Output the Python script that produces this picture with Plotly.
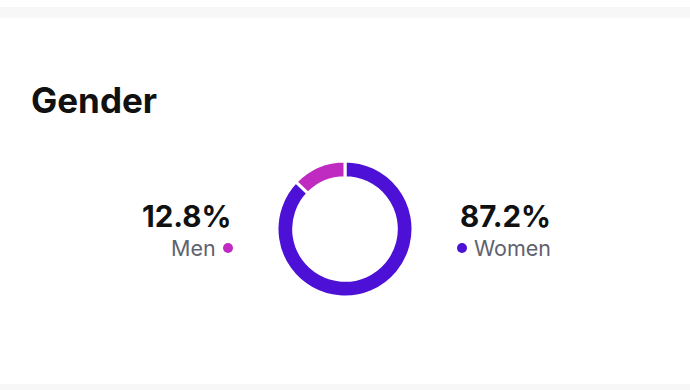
import plotly.graph_objects as go

title = "Gender"
labels = ["Women", "Men"]
values = [87.2, 12.8]
colors = ["#4D10D6", "#BF2BC0"]

W, H = 690, 390
def px(x): return x / W
def py(y): return 1 - y / H

fig = go.Figure()
fig.add_trace(go.Pie(
    labels=labels, values=values, sort=False, direction="clockwise", rotation=0,
    hole=0.755, marker=dict(colors=colors, line=dict(color="white", width=3)),
    textinfo="none", hoverinfo="label+percent", showlegend=False,
    domain=dict(x=[px(277), px(413)], y=[py(297), py(161)]),
))

font = "Inter, Roboto, sans-serif"
shapes = [
    dict(type="rect", xref="paper", yref="paper", x0=0, x1=1, y0=py(18), y1=py(7),
         fillcolor="#F7F7F7", line=dict(width=0), layer="below"),
    dict(type="rect", xref="paper", yref="paper", x0=0, x1=1, y0=0, y1=py(384),
         fillcolor="#F7F7F7", line=dict(width=0), layer="below"),
]
annotations = [
    dict(text=f"<b>{title}</b>", x=px(29), y=py(100), xanchor="left", yanchor="middle",
         font=dict(family=font, size=35, color="#111111")),
]
men_i, women_i = labels.index("Men"), labels.index("Women")
annotations += [
    dict(text=f"<b>{values[men_i]:.1f}%</b>", x=px(233), y=py(216), xanchor="right", yanchor="middle",
         font=dict(family=font, size=29.5, color="#111111")),
    dict(text=labels[men_i], x=px(218), y=py(248), xanchor="right", yanchor="middle",
         font=dict(family=font, size=21.5, color="#5F6270")),
    dict(text=f"<b>{values[women_i]:.1f}%</b>", x=px(458), y=py(216), xanchor="left", yanchor="middle",
         font=dict(family=font, size=29.5, color="#111111")),
    dict(text=labels[women_i], x=px(472), y=py(248), xanchor="left", yanchor="middle",
         font=dict(family=font, size=21.5, color="#5F6270")),
]
for cx, c in [(228, colors[men_i]), (462, colors[women_i])]:
    shapes.append(dict(type="circle", xref="paper", yref="paper",
                       x0=px(cx - 5), x1=px(cx + 5), y0=py(253), y1=py(243),
                       fillcolor=c, line=dict(width=0)))

fig.update_layout(
    width=W, height=H, margin=dict(l=0, r=0, t=0, b=0),
    paper_bgcolor="white", plot_bgcolor="white",
    shapes=shapes, annotations=[dict(a, showarrow=False, xref="paper", yref="paper") for a in annotations],
)
fig.write_html("out.html", config={"displayModeBar": False},
               post_script="document.body.style.margin='0';document.body.style.overflow='hidden';")
